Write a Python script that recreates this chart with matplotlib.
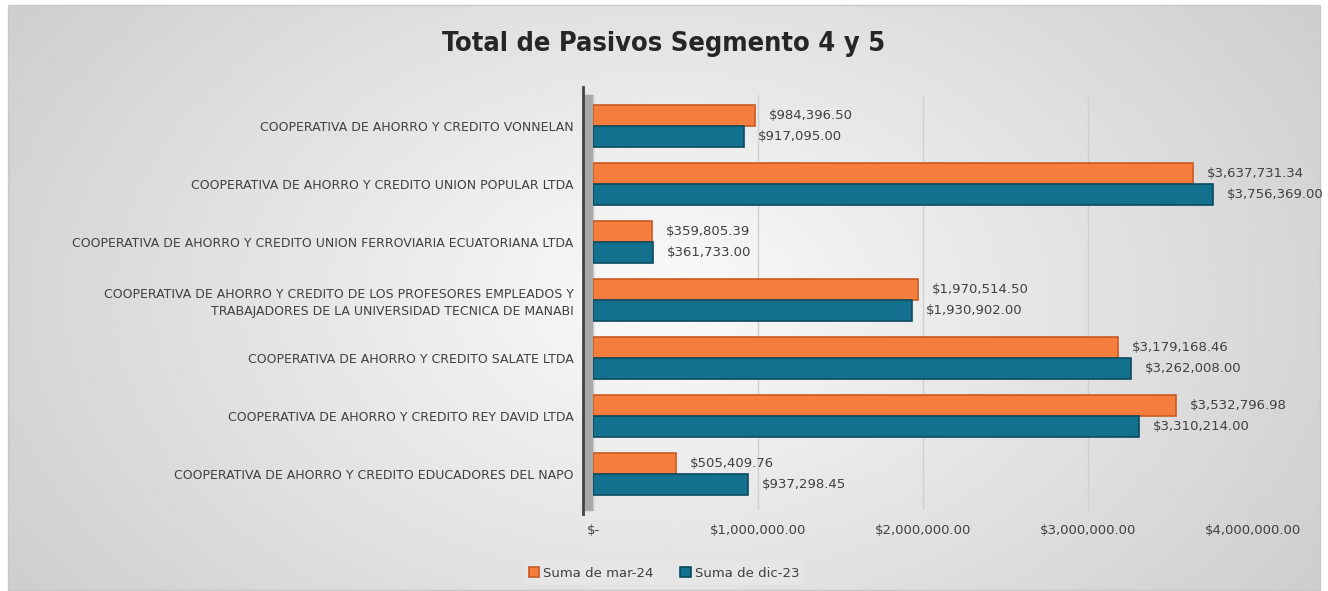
import matplotlib.pyplot as plt
import numpy as np
from matplotlib.patches import Rectangle
from matplotlib.ticker import FuncFormatter

categories = [
    "COOPERATIVA DE AHORRO Y CREDITO VONNELAN",
    "COOPERATIVA DE AHORRO Y CREDITO UNION POPULAR LTDA",
    "COOPERATIVA DE AHORRO Y CREDITO UNION FERROVIARIA ECUATORIANA LTDA",
    "COOPERATIVA DE AHORRO Y CREDITO DE LOS PROFESORES EMPLEADOS Y\nTRABAJADORES DE LA UNIVERSIDAD TECNICA DE MANABI",
    "COOPERATIVA DE AHORRO Y CREDITO SALATE LTDA",
    "COOPERATIVA DE AHORRO Y CREDITO REY DAVID LTDA",
    "COOPERATIVA DE AHORRO Y CREDITO EDUCADORES DEL NAPO",
]
mar24 = [984396.50, 3637731.34, 359805.39, 1970514.50, 3179168.46, 3532796.98, 505409.76]
dic23 = [917095.00, 3756369.00, 361733.00, 1930902.00, 3262008.00, 3310214.00, 937298.45]
ticks = [0, 1000000, 2000000, 3000000, 4000000]

orange = "#F57E3E"
orange_edge = "#C95A22"
teal = "#13708F"
teal_edge = "#0B4A60"
txt = "#404040"

fig = plt.figure(figsize=(13.28, 5.91), dpi=100)

# background with radial gradient
bg = fig.add_axes([0, 0, 1, 1], zorder=-10)
yy, xx = np.mgrid[-1:1:300j, -1:1:600j]
r = np.sqrt((xx * 0.9) ** 2 + (yy * 0.6) ** 2)
bg.imshow(0.98 - 0.16 * r, cmap="gray", vmin=0, vmax=1, extent=[8, 1320, 1, 586],
          aspect="auto", origin="lower")
bg.set_xlim(0, 1328)
bg.set_ylim(0, 591)
bg.add_patch(Rectangle((8, 1), 1312, 585, fill=False, edgecolor="#C8C8C8", lw=1))
bg.axis("off")

ax = fig.add_axes([593 / 1328, 81 / 591, 660 / 1328, 415 / 591])
ax.patch.set_alpha(0)

y = np.arange(len(categories))
h = 0.36
ax.barh(y - h / 2, mar24, height=h, color=orange, edgecolor=orange_edge, lw=1.2,
        label="Suma de mar-24", zorder=3)
ax.barh(y + h / 2, dic23, height=h, color=teal, edgecolor=teal_edge, lw=1.2,
        label="Suma de dic-23", zorder=3)

for i in range(len(categories)):
    ax.annotate(f"${mar24[i]:,.2f}", (mar24[i], y[i] - h / 2), xytext=(10, 0),
                textcoords="offset points", va="center", fontsize=9.5, color=txt)
    ax.annotate(f"${dic23[i]:,.2f}", (dic23[i], y[i] + h / 2), xytext=(10, 0),
                textcoords="offset points", va="center", fontsize=9.5, color=txt)

ax.set_ylim(6.62, -0.53)
ax.set_xlim(0, 4000000)
ax.set_yticks(y)
ax.set_yticklabels(categories, fontsize=9, color=txt, linespacing=1.4)
ax.set_xticks(ticks)
ax.xaxis.set_major_formatter(FuncFormatter(lambda v, p: "$-" if v == 0 else f"${v:,.2f}"))
ax.tick_params(axis="x", labelsize=9.5, labelcolor=txt, length=0, pad=10)
ax.tick_params(axis="y", length=0, pad=14)
ax.grid(axis="x", color="#D0D0D0", lw=1, zorder=0)
for s in ax.spines.values():
    s.set_visible(False)

# side wall
ax.add_patch(Rectangle((-0.015, 0), 0.015, 1, transform=ax.transAxes, color="#A8A8A8",
                       clip_on=False, zorder=1))
ax.plot([-0.015, -0.015], [-0.01, 1.02], transform=ax.transAxes, color="#444444", lw=2,
        clip_on=False, zorder=2)

fig.text(0.5, 0.925, "Total de Pasivos Segmento 4 y 5", ha="center", va="center",
         fontsize=19.5, fontweight="bold", fontstretch="condensed", color="#262626",
         family="DejaVu Sans")

leg = fig.legend(loc="center", bbox_to_anchor=(0.5, 0.03), ncol=2, frameon=True,
                 fontsize=9.5, handlelength=0.8, handleheight=0.8, handletextpad=0.3,
                 columnspacing=2.0)
leg.get_frame().set_facecolor("#E8E8E8")
leg.get_frame().set_edgecolor("none")
for t in leg.get_texts():
    t.set_color(txt)

fig.savefig("out.png", dpi=100)
